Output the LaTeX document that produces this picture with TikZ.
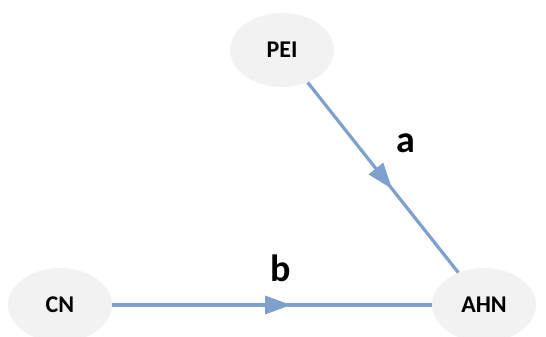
\documentclass[tikz,border=0pt]{standalone}
\usepackage{fontspec}
\setmainfont{Carlito}
\usetikzlibrary{shapes.geometric}
\usetikzlibrary{arrows.meta}
\usetikzlibrary{decorations.markings}
\definecolor{linkblue}{RGB}{126,160,206}
\definecolor{bubble}{RGB}{242,242,242}
\tikzset{
  var/.style={ellipse,fill=bubble,inner sep=0pt,minimum width=104pt,minimum height=74pt,
    font=\bfseries\fontsize{24}{24}\selectfont},
  path/.style={draw=linkblue,line width=3.2pt,postaction={decorate},
    decoration={markings,mark=at position 0.56 with {\arrow[linkblue]{Triangle[length=26pt,width=18pt]}}}},
  coef/.style={font=\bfseries\fontsize{38}{38}\selectfont}
}
\begin{document}
\begin{tikzpicture}[x=1pt,y=1pt]
\clip (0,0) rectangle (546,-337);
\node[var] (pei) at (282, -50) {PEI};
\node[var] (cn) at (60, -305) {CN};
\node[var] (ahn) at (484, -305) {AHN};

\path[path] (pei) -- (ahn);
\path[path] (cn) -- (ahn);
\node[coef] (a) at (406, -143) {a};
\node[coef] (b) at (281, -268) {b};
\end{tikzpicture}
\end{document}
